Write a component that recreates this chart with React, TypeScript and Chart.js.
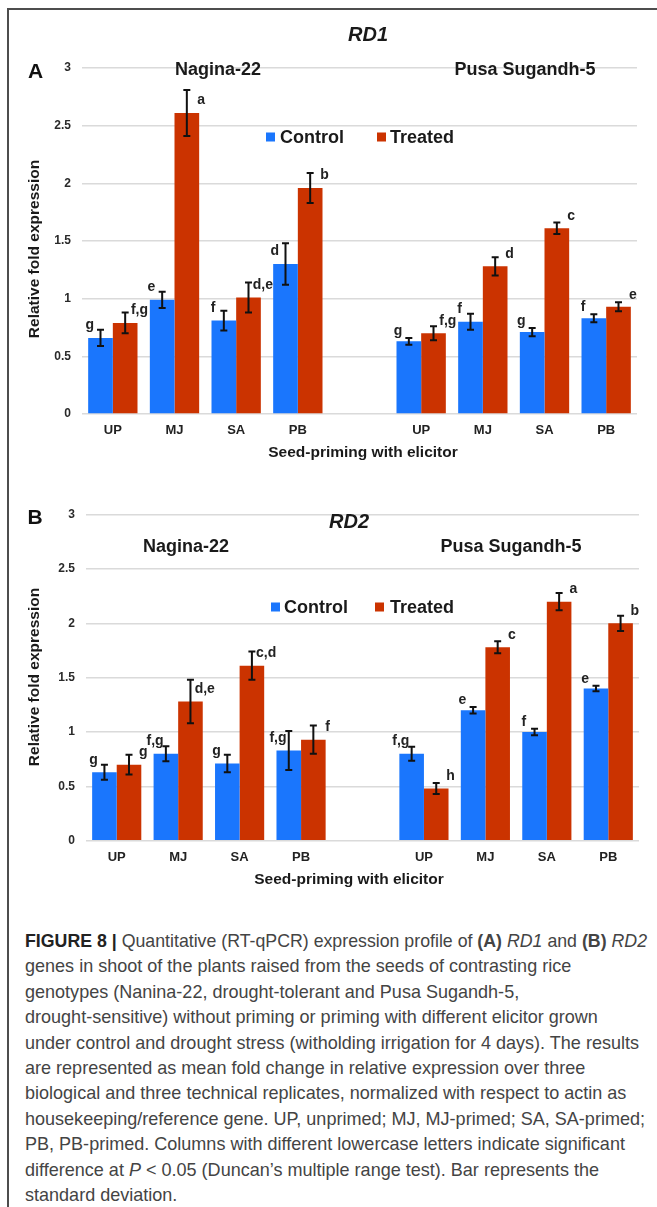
import React, { useEffect, useRef } from "react";
import { Chart, registerables } from "chart.js";
Chart.register(...registerables);

// ---------- data ----------
const categories = ["UP", "MJ", "SA", "PB", "", "UP", "MJ", "SA", "PB"];
const yTickValues = [0, 0.5, 1, 1.5, 2, 2.5, 3];
const seriesNames = ["Control", "Treated"];

const rd1Control = [0.66, 0.99, 0.81, 1.3, null, 0.63, 0.8, 0.71, 0.83];
const rd1ControlSD = [0.07, 0.07, 0.085, 0.18, null, 0.03, 0.07, 0.035, 0.035];
const rd1Treated = [0.79, 2.61, 1.01, 1.96, null, 0.7, 1.28, 1.61, 0.93];
const rd1TreatedSD = [0.09, 0.2, 0.13, 0.13, null, 0.06, 0.08, 0.05, 0.04];
const rd1ControlLetters = ["g", "e", "f", "d", "", "g", "f", "g", "f"];
const rd1TreatedLetters = ["f,g", "a", "d,e", "b", "", "f,g", "d", "c", "e"];

const rd2Control = [0.63, 0.8, 0.71, 0.83, null, 0.8, 1.2, 1.0, 1.4];
const rd2ControlSD = [0.07, 0.07, 0.08, 0.18, null, 0.065, 0.03, 0.03, 0.025];
const rd2Treated = [0.7, 1.28, 1.61, 0.93, null, 0.48, 1.78, 2.2, 2.0];
const rd2TreatedSD = [0.09, 0.2, 0.13, 0.13, null, 0.05, 0.055, 0.08, 0.07];
const rd2ControlLetters = ["g", "f,g", "g", "f,g", "", "f,g", "e", "f", "e"];
const rd2TreatedLetters = ["g", "d,e", "c,d", "f", "", "h", "c", "a", "b"];

const NBSP = "\u00a0";
const captionLines: React.ReactNode[] = [
  <>
    <b style={{ color: "#222" }}>FIGURE 8 |</b>
    {NBSP + "Quantitative (RT-qPCR) expression profile of" + NBSP}
    <b>(A)</b>
    <span>{NBSP}</span>
    <i>RD1</i>
    {NBSP + "and" + NBSP}
    <b>(B)</b>
    <span>{NBSP}</span>
    <i>RD2</i>
  </>,
  <>genes in shoot of the plants raised from the seeds of contrasting rice</>,
  <>genotypes (Nanina-22, drought-tolerant and Pusa Sugandh-5,</>,
  <>drought-sensitive) without priming or priming with different elicitor grown</>,
  <>under control and drought stress (witholding irrigation for 4 days). The results</>,
  <>are represented as mean fold change in relative expression over three</>,
  <>biological and three technical replicates, normalized with respect to actin as</>,
  <>housekeeping/reference gene. UP, unprimed; MJ, MJ-primed; SA, SA-primed;</>,
  <>PB, PB-primed. Columns with different lowercase letters indicate significant</>,
  <>
    {"difference at" + NBSP}
    <i>P</i>
    {NBSP + "< 0.05 (Duncan’s multiple range test). Bar represents the"}
  </>,
  <>standard deviation.</>,
];

// ---------- styles ----------
const BLUE = "#1a76fd";
const RED = "#cb3300";
const FONT = "'Liberation Sans', Arial, sans-serif";
const CAPTION_REF_LINE = 4; // line used to fit the caption width
const CAPTION_REF_WIDTH = 614;
const CAPTION_FIRST_WIDTH = 622;

type Txt = {
  text: string;
  x: number;
  y: number;
  font: string;
  color?: string;
  align?: CanvasTextAlign;
  rotate?: boolean;
};

type PanelProps = {
  top: number;
  height: number;
  padding: { left: number; right: number; top: number; bottom: number };
  control: (number | null)[];
  controlSD: (number | null)[];
  treated: (number | null)[];
  treatedSD: (number | null)[];
  ctrlLetters: string[];
  trtLetters: string[];
  texts: Txt[];
  legend: { y: number; items: { sq: number; tx: number }[] };
};

function makeOverlay(p: PanelProps) {
  return {
    id: "overlay",
    afterDatasetsDraw(chart: any) {
      const ctx: CanvasRenderingContext2D = chart.ctx;
      const ys = chart.scales.y;
      const sets = [
        { vals: p.control, sd: p.controlSD, letters: p.ctrlLetters, side: -1 },
        { vals: p.treated, sd: p.treatedSD, letters: p.trtLetters, side: 1 },
      ];
      sets.forEach((s, d) => {
        const meta = chart.getDatasetMeta(d);
        s.vals.forEach((v, i) => {
          if (v == null) return;
          const el: any = meta.data[i];
          const sd = s.sd[i] || 0;
          const x = el.x;
          const yT = ys.getPixelForValue(v + sd);
          const yB = ys.getPixelForValue(v - sd);
          const barTop = ys.getPixelForValue(v);
          ctx.save();
          ctx.strokeStyle = "#111";
          ctx.lineWidth = 2;
          ctx.beginPath();
          ctx.moveTo(x, yT);
          ctx.lineTo(x, yB);
          ctx.moveTo(x - 3.5, yT);
          ctx.lineTo(x + 3.5, yT);
          ctx.moveTo(x - 3.5, yB);
          ctx.lineTo(x + 3.5, yB);
          ctx.stroke();
          const half = el.width / 2;
          const lx = s.side < 0 ? x - half + 1.5 : x + half + 2;
          const ly = Math.max(yT - 7, barTop - 12.5);
          ctx.fillStyle = "#222";
          ctx.font = `bold 14px ${FONT}`;
          ctx.textAlign = "center";
          ctx.textBaseline = "middle";
          ctx.fillText(s.letters[i], lx, ly);
          ctx.restore();
        });
      });
    },
    afterDraw(chart: any) {
      const ctx: CanvasRenderingContext2D = chart.ctx;
      ctx.save();
      p.texts.forEach((t) => {
        ctx.save();
        ctx.font = t.font;
        ctx.fillStyle = t.color || "#1a1a1a";
        ctx.textAlign = t.align || "center";
        ctx.textBaseline = "middle";
        if (t.rotate) {
          ctx.translate(t.x, t.y - p.top);
          ctx.rotate(-Math.PI / 2);
          ctx.fillText(t.text, 0, 0);
        } else {
          ctx.fillText(t.text, t.x, t.y - p.top);
        }
        ctx.restore();
      });
      const colors = [BLUE, RED];
      p.legend.items.forEach((it, k) => {
        const y = p.legend.y - p.top;
        ctx.fillStyle = colors[k];
        ctx.fillRect(it.sq, y - 4.5, 9, 9);
        ctx.fillStyle = "#1a1a1a";
        ctx.font = `bold 18px ${FONT}`;
        ctx.textAlign = "left";
        ctx.textBaseline = "middle";
        ctx.fillText(seriesNames[k], it.tx, y + 1);
      });
      ctx.restore();
    },
  };
}

function Panel(p: PanelProps) {
  const ref = useRef<HTMLCanvasElement>(null);
  useEffect(() => {
    if (!ref.current) return;
    const chart = new Chart(ref.current, {
      type: "bar",
      data: {
        labels: categories,
        datasets: [
          { label: seriesNames[0], data: p.control as any, backgroundColor: BLUE },
          { label: seriesNames[1], data: p.treated as any, backgroundColor: RED },
        ],
      },
      options: {
        responsive: false,
        animation: false,
        layout: { padding: p.padding },
        datasets: { bar: { categoryPercentage: 0.8, barPercentage: 1.0 } },
        plugins: { legend: { display: false }, title: { display: false }, tooltip: { enabled: false } },
        scales: {
          x: {
            grid: { display: false, drawTicks: false },
            border: { display: false },
            ticks: { color: "#222", font: { family: FONT, size: 13, weight: "bold" }, padding: 9 },
            afterFit: (s: any) => {
              s.height = 30;
            },
          },
          y: {
            min: 0,
            max: 3,
            afterBuildTicks: (s: any) => {
              s.ticks = yTickValues.map((v) => ({ value: v }));
            },
            grid: { color: "#dadada", lineWidth: 1.5, drawTicks: false },
            border: { display: false },
            ticks: {
              color: "#2a2a2a",
              font: { family: FONT, size: 12, weight: "bold" },
              padding: 11,
              callback: (v: any) => String(v),
            },
            afterFit: (s: any) => {
              s.width = 30;
            },
          },
        },
      },
      plugins: [makeOverlay(p)],
    });
    return () => chart.destroy();
  }, []);
  return (
    <canvas
      ref={ref}
      width={657}
      height={p.height}
      style={{ position: "absolute", left: 0, top: p.top, width: 657, height: p.height }}
    />
  );
}

const panelA: PanelProps = {
  top: 0,
  height: 476,
  padding: { left: 52, right: 20, top: 68, bottom: 32 },
  control: rd1Control,
  controlSD: rd1ControlSD,
  treated: rd1Treated,
  treatedSD: rd1TreatedSD,
  ctrlLetters: rd1ControlLetters,
  trtLetters: rd1TreatedLetters,
  texts: [
    { text: "RD1", x: 368, y: 35, font: `italic bold 20px ${FONT}` },
    { text: "A", x: 35.5, y: 72, font: `bold 21px ${FONT}`, color: "#111" },
    { text: "Nagina-22", x: 218, y: 70, font: `bold 18px ${FONT}` },
    { text: "Pusa Sugandh-5", x: 525, y: 70, font: `bold 18px ${FONT}` },
    { text: "Seed-priming with elicitor", x: 363, y: 453, font: `bold 15.5px ${FONT}` },
    { text: "Relative fold expression", x: 35, y: 249, font: `bold 15.5px ${FONT}`, rotate: true },
  ],
  legend: { y: 137, items: [{ sq: 266, tx: 280 }, { sq: 377, tx: 390 }] },
};

const panelB: PanelProps = {
  top: 478,
  height: 422,
  padding: { left: 56, right: 18, top: 36.7, bottom: 29.3 },
  control: rd2Control,
  controlSD: rd2ControlSD,
  treated: rd2Treated,
  treatedSD: rd2TreatedSD,
  ctrlLetters: rd2ControlLetters,
  trtLetters: rd2TreatedLetters,
  texts: [
    { text: "RD2", x: 349, y: 522, font: `italic bold 20px ${FONT}` },
    { text: "B", x: 35, y: 518, font: `bold 21px ${FONT}`, color: "#111" },
    { text: "Nagina-22", x: 186, y: 547, font: `bold 18px ${FONT}` },
    { text: "Pusa Sugandh-5", x: 511, y: 547, font: `bold 18px ${FONT}` },
    { text: "Seed-priming with elicitor", x: 349, y: 880, font: `bold 15.5px ${FONT}` },
    { text: "Relative fold expression", x: 35, y: 677, font: `bold 15.5px ${FONT}`, rotate: true },
  ],
  legend: { y: 607, items: [{ sq: 271, tx: 284 }, { sq: 375, tx: 390 }] },
};

function Caption() {
  const ref = useRef<HTMLDivElement>(null);
  useEffect(() => {
    const box = ref.current;
    if (!box) return;
    const lines = Array.from(box.children) as HTMLElement[];
    const wRef = lines[CAPTION_REF_LINE].getBoundingClientRect().width;
    const w0 = lines[0].getBoundingClientRect().width;
    if (wRef <= 0 || w0 <= 0) return;
    const r = CAPTION_REF_WIDTH / wRef;
    lines.forEach((el, i) => {
      const k = i === 0 ? CAPTION_FIRST_WIDTH / w0 : r;
      el.style.transform = `scaleX(${k})`;
    });
  }, []);
  return (
    <div
      ref={ref}
      style={{
        position: "absolute",
        left: 25,
        top: 928,
        fontFamily: FONT,
        fontSize: 19,
        lineHeight: "25.4px",
        color: "#444",
        whiteSpace: "pre",
      }}
    >
      {captionLines.map((l, i) => (
        <div key={i} style={{ display: "table", transformOrigin: "0 0" }}>
          {l}
        </div>
      ))}
    </div>
  );
}

export default function App() {
  useEffect(() => {
    document.body.style.margin = "0";
    document.body.style.background = "#fff";
  }, []);
  return (
    <div style={{ position: "relative", width: 657, height: 1207, overflow: "hidden", background: "#fff" }}>
      <div
        style={{
          position: "absolute",
          left: 7,
          top: 8,
          right: 0,
          bottom: 0,
          borderTop: "2px solid #4d4d4d",
          borderLeft: "2px solid #4d4d4d",
        }}
      />
      <Panel {...panelA} />
      <Panel {...panelB} />
      <Caption />
    </div>
  );
}
